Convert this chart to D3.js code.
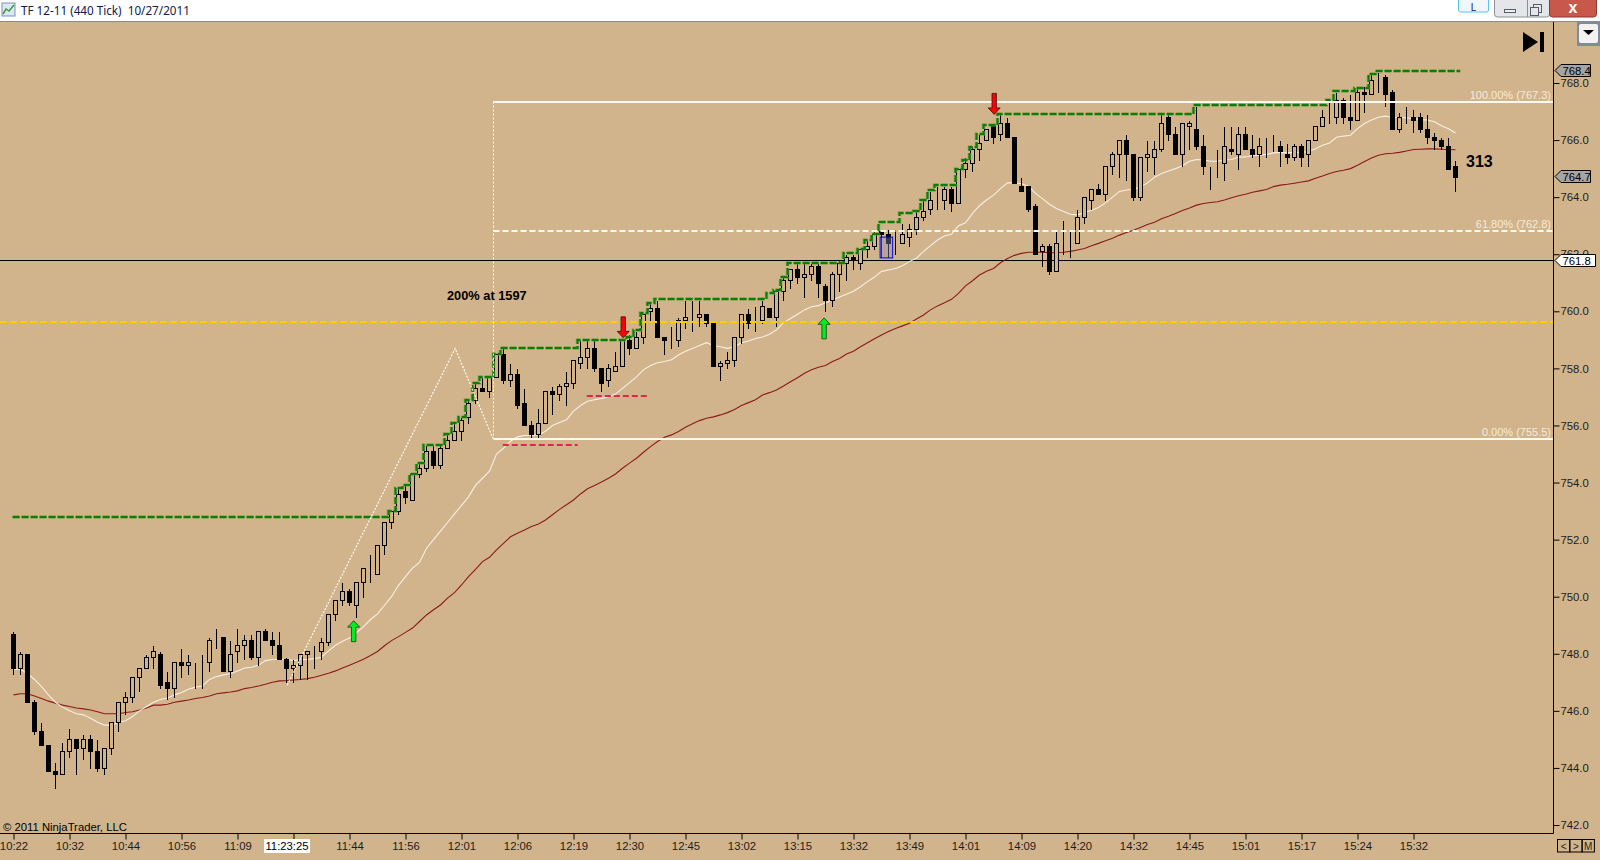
<!DOCTYPE html>
<html>
<head>
<meta charset="utf-8">
<title>TF 12-11 (440 Tick)</title>
<script src="https://cdn.jsdelivr.net/npm/d3@7"></script>
<style>
html, body { margin: 0; padding: 0; background: #d2b48c; overflow: hidden; }
svg { display: block; }
text { font-family: "Liberation Sans", Arial, sans-serif; }
</style>
</head>
<body>
<div id="showBox"></div>
<script>
// one entry per bar, ten bars on a row
const opens = [
  748.7,747.5,748.0,746.3,745.3,744.8,743.9,743.8,744.6,745.0,
  744.7,745.0,744.6,744.0,744.7,745.6,746.3,746.5,747.2,747.5,
  747.9,748.0,747.0,746.8,747.7,747.6,747.6,747.6,747.7,748.6,
  748.6,747.4,748.1,748.3,748.5,747.9,748.8,748.5,748.3,747.8,
  747.5,747.6,748.0,748.1,748.1,748.4,749.4,749.9,750.2,749.7,
  750.5,751.0,750.8,751.8,752.6,753.0,753.7,753.4,754.3,754.5,
  755.1,754.6,755.2,755.5,755.8,756.3,756.9,757.3,757.2,757.7,
  758.5,757.6,757.8,756.8,756.0,755.7,756.1,757.2,757.1,757.4,
  757.5,758.2,758.4,758.7,758.0,757.6,757.9,758.1,759.0,758.7,
  759.1,760.0,760.1,759.1,759.0,759.0,759.7,759.7,759.8,759.9,
  759.6,758.1,758.2,758.3,759.1,759.9,759.7,759.7,760.1,759.8,
  760.7,761.1,761.5,761.2,761.3,761.6,760.9,760.4,761.3,761.7,
  761.9,761.7,762.2,762.3,762.8,762.7,762.4,762.4,762.6,762.9,
  763.3,763.6,763.9,763.9,764.3,763.8,765.0,765.2,765.7,766.0,
  766.5,766.2,766.6,766.1,764.4,764.4,763.7,762.1,762.3,761.4,
  762.4,762.4,762.4,763.3,763.9,764.3,764.1,765.1,765.5,766.0,
  765.5,764.0,765.4,765.4,765.7,766.8,766.2,765.5,766.5,766.4,
  765.8,765.1,765.2,765.2,765.7,765.5,766.2,765.7,765.5,765.8,
  765.8,765.8,765.5,765.4,765.8,765.5,766.0,766.5,766.8,766.8,
  767.4,766.8,766.7,767.7,767.6,768.2,768.2,767.7,766.4,766.8,
  766.8,766.8,766.4,766.1,766.0,765.8,765.1
]
const closes = [
  747.5,748.0,746.3,745.3,744.8,743.9,743.8,744.6,745.0,744.7,
  745.0,744.6,744.0,744.7,745.6,746.3,746.5,747.2,747.5,747.9,
  748.1,746.9,746.8,747.7,747.6,747.7,747.6,747.6,748.5,748.6,
  747.4,748.0,748.3,748.5,747.9,748.8,748.5,748.3,747.8,747.5,
  747.6,748.0,748.1,748.1,748.4,749.4,749.9,750.2,749.8,750.5,
  751.0,751.0,751.8,752.6,753.0,753.6,753.5,754.3,754.5,755.1,
  754.6,755.2,755.5,755.8,756.2,756.8,757.3,757.2,757.7,758.5,
  757.6,757.8,756.7,756.0,755.7,756.1,757.2,757.1,757.4,757.5,
  758.3,758.4,758.7,758.0,757.5,758.0,758.1,759.0,758.7,759.1,
  759.9,760.1,759.1,759.0,759.0,759.7,759.8,759.7,759.9,759.6,
  758.1,758.2,758.3,759.1,759.9,759.6,759.7,760.2,759.8,760.7,
  761.1,761.5,761.2,761.3,761.6,761.0,760.4,761.3,761.7,761.9,
  761.8,762.2,762.3,762.7,762.7,762.4,762.4,762.7,762.9,763.3,
  763.5,763.9,763.9,764.3,763.8,765.0,765.2,765.7,765.9,766.4,
  766.1,766.6,766.1,764.5,764.2,763.6,762.0,762.3,761.4,762.4,
  762.4,762.4,763.3,764.0,764.3,764.1,765.1,765.5,766.0,765.5,
  764.0,765.4,765.5,765.7,766.6,766.2,765.5,766.6,766.6,765.8,
  765.1,765.1,765.2,765.8,765.6,766.2,765.7,765.5,765.8,765.8,
  765.8,765.6,765.4,765.8,765.4,766.0,766.5,766.8,766.8,767.4,
  766.8,766.7,767.7,767.6,768.1,768.2,767.6,766.4,766.8,766.8,
  766.7,766.4,766.1,766.0,765.8,765.0,764.7
]
const highs = [
  748.8,748.1,748.0,746.4,745.6,744.8,744.2,744.9,745.4,745.0,
  745.2,745.2,745.0,744.7,745.6,746.3,746.7,747.2,747.5,748.0,
  748.3,748.1,747.4,747.7,748.2,748.0,747.7,748.0,748.6,748.9,
  748.6,748.5,748.9,748.7,748.7,748.8,748.9,748.8,748.8,747.9,
  747.8,748.0,748.1,748.3,748.6,749.4,749.9,750.5,750.3,750.5,
  751.0,751.5,751.8,752.6,753.0,753.8,753.9,754.3,754.7,755.3,
  755.3,755.3,755.7,756.1,756.3,756.9,757.5,757.7,757.7,758.5,
  758.7,758.2,758.0,757.3,756.2,756.6,757.2,757.4,757.5,757.9,
  758.3,759.0,759.0,759.0,758.0,758.2,758.6,759.0,759.2,759.3,
  759.9,760.3,760.4,759.1,759.5,759.8,760.4,760.4,760.4,759.9,
  759.6,758.3,758.6,759.1,759.9,760.1,760.2,760.4,760.1,760.7,
  761.2,761.5,761.7,761.7,761.7,761.7,761.0,761.4,761.8,762.0,
  762.0,762.2,762.5,762.8,762.9,762.9,762.9,763.1,763.1,763.5,
  763.9,764.2,764.4,764.4,764.4,765.0,765.4,765.8,766.2,766.4,
  766.5,766.9,766.8,766.1,764.7,764.4,763.8,762.4,762.4,762.8,
  763.2,762.8,763.6,764.0,764.3,764.5,765.1,765.6,766.0,766.2,
  765.5,765.4,766.0,766.0,766.9,766.9,766.5,766.6,766.7,767.2,
  766.2,765.1,765.7,766.5,766.5,766.5,766.5,766.2,766.1,766.1,
  766.2,766.0,765.9,765.9,765.9,766.0,766.5,767.1,767.4,767.7,
  767.5,767.6,767.9,767.9,768.3,768.4,768.3,767.8,767.0,767.2,
  767.1,767.0,766.9,766.3,766.1,766.1,765.3
]
const lows = [
  747.3,747.3,746.3,745.2,744.8,743.9,743.3,743.8,744.4,743.8,
  744.3,744.0,743.9,743.8,744.5,745.3,745.9,746.3,746.7,747.5,
  747.5,746.8,746.4,746.5,747.2,747.3,746.8,746.8,747.4,748.2,
  747.4,747.2,747.7,747.8,747.8,747.6,748.5,748.0,747.8,747.0,
  747.0,747.1,747.1,747.5,747.8,748.3,749.2,749.7,749.7,749.3,
  750.0,750.5,750.8,751.5,752.4,752.9,753.3,753.4,754.2,754.4,
  754.5,754.5,755.2,755.5,755.5,756.1,756.8,757.2,757.0,757.7,
  757.5,757.4,756.6,756.0,755.6,755.6,756.1,756.4,756.9,756.7,
  757.3,758.0,758.0,757.9,757.2,757.4,757.9,758.1,758.5,758.7,
  758.9,759.7,759.1,758.5,758.7,758.8,759.4,759.3,759.5,759.5,
  758.1,757.6,758.0,758.1,758.9,759.4,759.3,759.6,759.8,759.5,
  760.4,760.8,761.0,760.5,761.1,760.5,760.0,760.2,760.7,761.1,
  761.5,761.5,761.9,762.2,761.9,761.9,762.0,762.4,762.3,762.7,
  763.2,763.4,763.6,763.6,763.5,763.8,764.7,764.9,765.3,766.0,
  765.9,766.0,766.1,764.5,764.2,763.5,762.0,761.6,761.3,761.4,
  762.0,761.9,762.4,763.1,763.6,764.1,763.9,764.8,764.7,764.6,
  763.9,763.9,764.9,764.8,765.6,766.0,765.5,765.1,765.7,765.7,
  764.8,764.3,764.7,764.6,765.5,765.0,765.7,765.4,765.1,765.4,
  765.6,765.1,765.2,765.3,765.1,765.1,766.0,766.5,766.6,766.6,
  766.6,766.4,766.7,767.0,767.6,767.7,767.2,766.4,766.3,766.6,
  766.3,766.3,765.9,765.7,765.7,765.0,764.2
]
const fastMA = [
  747.46,747.46,747.3,747.1,746.85,746.56,746.3,746.13,746.0,745.9,
  745.86,745.74,745.6,745.5,745.5,745.6,745.65,745.8,746.0,746.15,
  746.3,746.4,746.45,746.56,746.64,746.76,746.83,746.87,747.1,747.2,
  747.26,747.3,747.4,747.5,747.53,747.6,747.76,747.8,747.8,747.8,
  747.76,747.8,747.8,747.83,747.88,748.1,748.3,748.44,748.55,748.74,
  748.95,749.2,749.4,749.7,750.0,750.4,750.7,751.0,751.2,751.7,
  752.0,752.3,752.6,752.9,753.2,753.5,753.9,754.15,754.4,755.0,
  755.2,755.45,755.6,755.65,755.66,755.67,755.8,756.0,756.1,756.2,
  756.5,756.7,756.85,756.9,756.95,757.0,757.1,757.3,757.5,757.7,
  757.95,758.1,758.2,758.24,758.3,758.47,758.6,758.7,758.8,758.9,
  758.8,758.76,758.7,758.76,758.9,758.96,759.05,759.1,759.2,759.35,
  759.6,759.75,759.9,760.05,760.16,760.2,760.3,760.4,760.5,760.6,
  760.7,760.86,761.04,761.2,761.4,761.45,761.5,761.6,761.75,761.86,
  762.1,762.3,762.5,762.64,762.7,763.0,763.1,763.43,763.7,763.9,
  764.07,764.3,764.5,764.5,764.47,764.38,764.13,763.95,763.75,763.6,
  763.5,763.4,763.38,763.46,763.54,763.64,763.8,764.0,764.2,764.25,
  764.27,764.36,764.5,764.7,764.83,764.92,765.0,765.1,765.26,765.32,
  765.3,765.26,765.26,765.3,765.32,765.4,765.41,765.46,765.47,765.5,
  765.55,765.57,765.55,765.57,765.57,765.6,765.7,765.82,765.9,766.1,
  766.14,766.17,766.4,766.58,766.7,766.8,766.84,766.8,766.79,766.78,
  766.75,766.72,766.7,766.64,766.5,766.4,766.25
]
const slowMA = [
  746.56,746.6,746.6,746.52,746.43,746.34,746.27,746.2,746.15,746.1,
  746.07,746.03,745.97,745.9,745.9,745.9,745.94,745.97,746.03,746.1,
  746.2,746.2,746.23,746.3,746.34,746.38,746.43,746.47,746.52,746.6,
  746.63,746.66,746.7,746.78,746.82,746.87,746.93,747.0,747.05,747.06,
  747.08,747.1,747.13,747.18,747.25,747.32,747.4,747.5,747.6,747.7,
  747.81,747.94,748.08,748.28,748.46,748.6,748.75,748.9,749.13,749.36,
  749.54,749.71,749.95,750.14,750.41,750.7,750.96,751.23,751.38,751.64,
  751.87,752.1,752.22,752.34,752.46,752.55,752.69,752.87,753.06,753.22,
  753.39,753.6,753.78,753.9,754.02,754.15,754.3,754.5,754.68,754.85,
  755.06,755.26,755.44,755.59,755.67,755.79,755.94,756.06,756.17,756.25,
  756.3,756.37,756.45,756.56,756.7,756.8,756.9,757.07,757.15,757.24,
  757.38,757.53,757.67,757.83,757.95,758.04,758.1,758.24,758.35,758.5,
  758.6,758.76,758.9,759.04,759.17,759.29,759.4,759.49,759.58,759.73,
  759.87,760.05,760.19,760.3,760.42,760.63,760.89,761.07,761.27,761.4,
  761.5,761.7,761.85,761.96,762.03,762.07,762.07,762.07,762.05,762.06,
  762.07,762.1,762.15,762.2,762.3,762.38,762.47,762.56,762.67,762.76,
  762.84,762.94,763.04,763.12,763.24,763.33,763.43,763.53,763.62,763.72,
  763.78,763.81,763.84,763.9,763.98,764.05,764.1,764.17,764.22,764.27,
  764.37,764.42,764.45,764.49,764.53,764.57,764.66,764.74,764.83,764.9,
  764.94,765.0,765.12,765.25,765.37,765.47,765.52,765.54,765.57,765.62,
  765.67,765.68,765.69,765.69,765.68,765.67,765.66
]

// stepped high line
const stepBars = [0.3,54,55,56,57,58,59,62,63,64,65,66,67,69,70,81,88,89,90,91,92,108,109,110,111,119,121,122,123,124,127,129,130,131,132,135,136,137,138,139,141,169,188,189,192,194,195,207.1]
const stepLevels = [752.8,753.0,753.8,753.9,754.3,754.7,755.3,755.7,756.1,756.3,756.9,757.5,757.7,758.5,758.7,759.0,759.1,759.35,759.93,760.28,760.43,760.65,760.75,761.2,761.7,762.03,762.2,762.5,762.7,763.13,763.43,763.5,763.9,764.25,764.42,765.0,765.3,765.74,766.2,766.52,766.93,767.22,767.42,767.72,767.84,768.33,768.42,768.42]

const priceTicks = d3.range(742, 769, 2)
const timeLabels = ["10:22","10:32","10:44","10:56","11:09","","11:44","11:56","12:01","12:06","12:19","12:30","12:45","13:02","13:15","13:32","13:49","14:01","14:09","14:20","14:32","14:45","15:01","15:17","15:24","15:32"]

const fibLevels = [767.35, 762.83, 755.54]
const fibLabels = ["100.00% (767.3)", "61.80% (762.8)", "0.00% (755.5)"]
const fibDash = ["", "6,3", ""]
const fibStartBar = 68.5

const zigBars = [39.1, 63.1, 68.5]
const zigPrices = [746.9, 758.7, 755.54]

const redDashBars = [[69.9, 80.6], [81.9, 90.6]]
const redDashPrices = [755.3, 757.03]

const upArrowBars = [48.6, 115.8]
const upArrowPrices = [749.16, 759.77]
const downArrowBars = [87.1, 140.1]
const downArrowPrices = [759.07, 766.9]

const yellowLevel = 759.63
const crosshairPrice = 761.8
const lastPrice = 764.7
const highPrice = 768.4

const width = 1600, height = 860
const tan = "#d2b48c"

const x = d3.scaleLinear().domain([0, 206]).range([13.5, 1455.5])
const y = d3.scaleLinear().domain([742, 768]).range([825, 83])
const py = v => Math.round(y(v)) + 0.5

const svg = d3.select("#showBox").append("svg").attr("width", width).attr("height", height)
svg.append("rect").attr("width", width).attr("height", height).attr("fill", tan)

// crosshair, behind everything
svg.append("line").attr("x1", 0).attr("x2", 1553).attr("y1", py(crosshairPrice)).attr("y2", py(crosshairPrice))
    .attr("stroke", "#000").attr("stroke-width", 1)

// moving averages
const maLine = d3.line().x((d, i) => x(i)).y(d => y(d))
svg.append("path").attr("d", maLine(slowMA)).attr("fill", "none").attr("stroke", "#8b1a1a").attr("stroke-width", 1.1)
svg.append("path").attr("d", maLine(fastMA)).attr("fill", "none").attr("stroke", "#f5efe6").attr("stroke-width", 1.1)

// candles
const bars = svg.append("g").attr("shape-rendering", "crispEdges").selectAll("g")
    .data(d3.range(opens.length))
    .join("g")

bars.append("line")
    .attr("x1", i => x(i)).attr("x2", i => x(i))
    .attr("y1", i => py(highs[i])).attr("y2", i => py(lows[i]))
    .attr("stroke", "#000")

bars.append("rect")
    .attr("x", i => x(i) - 2)
    .attr("width", 4)
    .attr("y", i => py(Math.max(opens[i], closes[i])))
    .attr("height", i => py(Math.min(opens[i], closes[i])) - py(Math.max(opens[i], closes[i])))
    .attr("fill", i => closes[i] < opens[i] ? "#000" : tan)
    .attr("stroke", "#000")

// yellow level
svg.append("line").attr("x1", 0).attr("x2", 1553).attr("y1", Math.round(y(yellowLevel))).attr("y2", Math.round(y(yellowLevel)))
    .attr("stroke", "#ffcc00").attr("stroke-width", 2).attr("stroke-dasharray", "7,3")

// red dashes
redDashBars.forEach((b, i) => {
    const ry = Math.round(y(redDashPrices[i]))
    svg.append("line").attr("x1", x(b[0])).attr("x2", x(b[1])).attr("y1", ry).attr("y2", ry)
        .attr("stroke", "#e0264e").attr("stroke-width", 2).attr("stroke-dasharray", "6,3")
})

// stepped high line
const stepLine = d3.line().curve(d3.curveStepAfter).x(d => x(d[0]) - 3).y(d => Math.round(y(d[1])))
const stepData = d3.zip(stepBars, stepLevels)
svg.append("path").attr("d", stepLine(stepData)).attr("fill", "none")
    .attr("stroke", "#6f9c3c").attr("stroke-width", 3.5).attr("stroke-dasharray", "7,2").attr("opacity", 0.75)
svg.append("path").attr("d", stepLine(stepData)).attr("fill", "none")
    .attr("stroke", "#0a7d0a").attr("stroke-width", 2).attr("stroke-dasharray", "7,2")

// fib box
const fibX = Math.round(x(fibStartBar)) + 0.5
fibLevels.forEach((v, i) => {
    const fy = Math.round(y(v))
    svg.append("line").attr("x1", fibX).attr("x2", 1553).attr("y1", fy).attr("y2", fy)
        .attr("stroke", "#fffaf0").attr("stroke-width", 2).attr("stroke-dasharray", fibDash[i])
    svg.append("text").attr("x", 1551).attr("y", fy - 3).attr("text-anchor", "end")
        .attr("font-size", 11).attr("fill", "#f6ead8").text(fibLabels[i])
})
svg.append("line").attr("x1", fibX).attr("x2", fibX).attr("y1", y(fibLevels[0])).attr("y2", y(fibLevels[2]))
    .attr("stroke", "#fffaf0").attr("stroke-width", 1).attr("stroke-dasharray", "2,2")

// zigzag
svg.append("path")
    .attr("d", d3.line().x(d => x(d[0])).y(d => y(d[1]))(d3.zip(zigBars, zigPrices)))
    .attr("fill", "none").attr("stroke", "#fffaf0").attr("stroke-width", 1.2).attr("stroke-dasharray", "2,1.5")

// blue marker box
svg.append("rect").attr("x", x(123.8)).attr("width", x(125.6) - x(123.8))
    .attr("y", y(762.6)).attr("height", y(761.87) - y(762.6))
    .attr("fill", "#8a8ac8").attr("fill-opacity", 0.4).attr("stroke", "#0000e0").attr("stroke-width", 1)

// arrows, tip on the price
const arrowPath = "M0,0L6,6.5L2.2,6.5L2.2,21L-2.2,21L-2.2,6.5L-6,6.5Z"
svg.append("g").selectAll("path").data(upArrowBars).join("path")
    .attr("d", arrowPath)
    .attr("transform", (d, i) => `translate(${x(d)},${y(upArrowPrices[i])})`)
    .attr("fill", "#00ee22").attr("stroke", "#1c3a10").attr("stroke-width", 0.8)
svg.append("g").selectAll("path").data(downArrowBars).join("path")
    .attr("d", arrowPath)
    .attr("transform", (d, i) => `translate(${x(d)},${y(downArrowPrices[i])}) scale(1,-1)`)
    .attr("fill", "#ff0000").attr("stroke", "#3a1010").attr("stroke-width", 0.8)

// notes
svg.append("text").attr("x", 447).attr("y", 300).attr("font-size", 12.8).attr("font-weight", "bold").attr("fill", "#000").text("200% at 1597")
svg.append("text").attr("x", 1466).attr("y", 167).attr("font-size", 16).attr("font-weight", "bold").attr("fill", "#000").text("313")
svg.append("text").attr("x", 3).attr("y", 831).attr("font-size", 11.3).attr("fill", "#000").text("\u00a9 2011 NinjaTrader, LLC")

// axes
const yAxis = d3.axisRight(y).tickValues(priceTicks).tickFormat(d3.format(".1f")).tickSize(6).tickPadding(1)
const yG = svg.append("g").attr("transform", "translate(1553.5,0)").call(yAxis)
yG.select(".domain").attr("d", "M0,21V833.5")
const xAxis = d3.axisBottom(x).tickValues(timeLabels.map((d, i) => i * 8)).tickFormat((d, i) => timeLabels[i]).tickSize(6).tickPadding(2)
const xG = svg.append("g").attr("transform", "translate(0,833.5)").call(xAxis)
xG.select(".domain").attr("d", "M0,0H1553.5")
;[yG, xG].forEach(g => {
    g.attr("font-family", null).attr("font-size", null)
    g.selectAll("text").attr("font-size", 11.3).attr("fill", "#1c1c1c")
    g.selectAll("line,path").attr("stroke", "#000")
})

// price flags on the right axis
const flag = (price, right, fill, label, dy) => {
    const c = py(price) + dy
    svg.append("path")
        .attr("d", `M1555,${c}L1561,${c - 6}H${right}V${c + 6}H1561Z`)
        .attr("fill", fill).attr("stroke", "#000")
    svg.append("text").attr("x", 1562.5).attr("y", c + 4).attr("font-size", 11.3).attr("fill", "#000").text(label)
}
flag(highPrice, 1590.5, "#a5a5a5", "768.4", -2)
flag(lastPrice, 1590.5, "#a5a5a5", "764.7", -1)
flag(crosshairPrice, 1595.5, "#fff", "761.8", 0)

// crosshair time box
svg.append("rect").attr("x", 264).attr("y", 839).attr("width", 46).attr("height", 14).attr("fill", "#fff")
svg.append("text").attr("x", 287).attr("y", 850).attr("text-anchor", "middle").attr("font-size", 11.3).attr("fill", "#000").text("11:23:25")

// window title bar
svg.append("rect").attr("width", width).attr("height", 21).attr("fill", "#fff")
svg.append("line").attr("x1", 0).attr("x2", width).attr("y1", 21.5).attr("y2", 21.5).attr("stroke", "#8a8a8a")
svg.append("text").attr("x", 21).attr("y", 15).attr("font-size", 11.7).attr("fill", "#10204a")
    .style("font-family", '"Noto Sans", sans-serif').style("white-space", "pre").text("TF 12-11 (440 Tick)  10/27/2011")
const icon = svg.append("g").attr("transform", "translate(2,3)")
icon.append("rect").attr("width", 13).attr("height", 13).attr("fill", "#dce8f4").attr("stroke", "#7a93b0")
icon.append("path").attr("d", "M1,11L4,6L7,8L12,2").attr("fill", "none").attr("stroke", "#3f9a3f").attr("stroke-width", 1.5)

svg.append("rect").attr("x", 1458.5).attr("y", -2).attr("width", 30).attr("height", 14).attr("rx", 2)
    .attr("fill", "#f0f6fa").attr("stroke", "#58c6e8")
svg.append("text").attr("x", 1473.5).attr("y", 11).attr("text-anchor", "middle").attr("font-size", 10).attr("fill", "#10206a").text("L")
svg.append("rect").attr("x", 1494.5).attr("y", -2).attr("width", 55).attr("height", 19).attr("rx", 3).attr("fill", "#e4e6ea").attr("stroke", "#8a8f98")
svg.append("line").attr("x1", 1527.5).attr("x2", 1527.5).attr("y1", 0).attr("y2", 17).attr("stroke", "#8a8f98")
svg.append("rect").attr("x", 1504.5).attr("y", 9.5).attr("width", 11).attr("height", 3).attr("fill", "#eef0f3").attr("stroke", "#555c68")
svg.append("rect").attr("x", 1533.5).attr("y", 4.5).attr("width", 8).attr("height", 8).attr("fill", "none").attr("stroke", "#555c68")
svg.append("rect").attr("x", 1530.5).attr("y", 7.5).attr("width", 8).attr("height", 8).attr("fill", "#e4e6ea").attr("stroke", "#555c68")
svg.append("rect").attr("x", 1549.5).attr("y", -2).attr("width", 47).attr("height", 19).attr("rx", 3).attr("fill", "#c8584a").attr("stroke", "#8a3a30")
svg.append("text").attr("x", 1573).attr("y", 13).attr("text-anchor", "middle").attr("font-size", 16).attr("font-weight", "bold").attr("fill", "#fff").text("x")

// chart buttons
svg.append("rect").attr("x", 1577).attr("y", 22).attr("width", 23).attr("height", 24).attr("fill", "#7f8a9a")
svg.append("rect").attr("x", 1579).attr("y", 24).attr("width", 19).attr("height", 19).attr("rx", 2).attr("fill", "#f2f2f2")
svg.append("path").attr("d", "M1583,30H1594L1588.5,35Z").attr("fill", "#000")
svg.append("path").attr("d", "M1523,32V52L1538,42Z").attr("fill", "#000")
svg.append("rect").attr("x", 1540).attr("y", 32).attr("width", 4).attr("height", 20).attr("fill", "#000")

const navLabels = ["<", ">", "M"]
navLabels.forEach((d, i) => {
    svg.append("rect").attr("x", 1557.5 + i * 12.3).attr("y", 839.5).attr("width", 12.3).attr("height", 12.5)
        .attr("fill", "none").attr("stroke", "#000")
    svg.append("text").attr("x", 1563.6 + i * 12.3).attr("y", 850).attr("text-anchor", "middle").attr("font-size", 10).attr("fill", "#222").text(d)
})
</script>
</body>
</html>
